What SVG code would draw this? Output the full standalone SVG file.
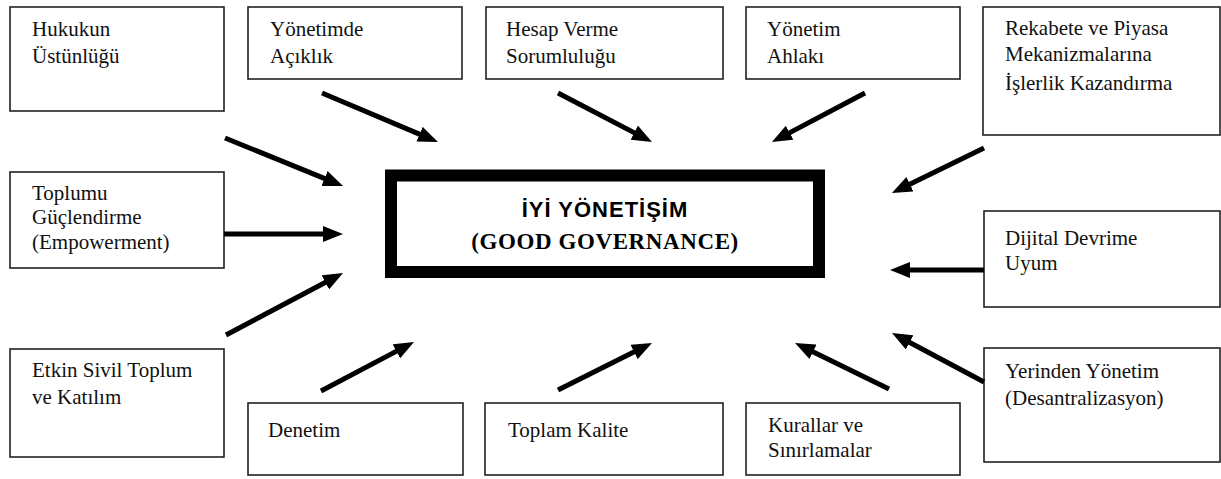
<svg xmlns="http://www.w3.org/2000/svg" width="1221" height="479" viewBox="0 0 1221 479">
<style>
.box{fill:#fff;stroke:#222;stroke-width:1.6}
.t{font-family:"Liberation Serif","Times New Roman",serif;font-size:21px;fill:#111}
.c{stroke:#000;stroke-width:5;fill:none;marker-end:url(#ah)}
.m1{font-family:"Liberation Sans",Arial,sans-serif;font-weight:bold;font-size:22px;letter-spacing:1px;fill:#000}
.m2{font-family:"Liberation Serif","Times New Roman",serif;font-weight:bold;font-size:23px;letter-spacing:0.6px;fill:#000}
</style>
<defs>
<marker id="ah" markerUnits="userSpaceOnUse" markerWidth="20" markerHeight="16" refX="3" refY="8" orient="auto">
<path d="M0,0 L20,8 L0,16 z" fill="#000"/>
</marker>
</defs>
<rect width="1221" height="479" fill="#fff"/>
<g id="center">
<rect x="391" y="175.5" width="428" height="96.5" fill="#fff" stroke="#000" stroke-width="12"/>
<text class="m1" x="605" y="217" text-anchor="middle">İYİ YÖNETİŞİM</text>
<text class="m2" x="605" y="249" text-anchor="middle">(GOOD GOVERNANCE)</text>
</g>
<g id="n1"><rect class="box" x="10" y="7" width="214" height="104"/><text class="t" x="32" y="36">Hukukun</text><text class="t" x="32" y="63">Üstünlüğü</text></g>
<g id="n2"><rect class="box" x="248" y="7" width="214" height="72"/><text class="t" x="270" y="36">Yönetimde</text><text class="t" x="270" y="63">Açıklık</text></g>
<g id="n3"><rect class="box" x="486" y="7" width="237" height="72"/><text class="t" x="506" y="36">Hesap Verme</text><text class="t" x="506" y="63">Sorumluluğu</text></g>
<g id="n4"><rect class="box" x="746" y="7" width="214" height="72"/><text class="t" x="767" y="36">Yönetim</text><text class="t" x="767" y="63">Ahlakı</text></g>
<g id="n5"><rect class="box" x="983" y="7" width="237" height="128"/><text class="t" x="1005" y="35">Rekabete ve Piyasa</text><text class="t" x="1005" y="61">Mekanizmalarına</text><text class="t" x="1005" y="90">İşlerlik Kazandırma</text></g>
<g id="n6"><rect class="box" x="10" y="172" width="214" height="96"/><text class="t" x="32" y="200">Toplumu</text><text class="t" x="32" y="224">Güçlendirme</text><text class="t" x="32" y="249">(Empowerment)</text></g>
<g id="n7"><rect class="box" x="984" y="211" width="236" height="96"/><text class="t" x="1005" y="245">Dijital Devrime</text><text class="t" x="1005" y="270">Uyum</text></g>
<g id="n8"><rect class="box" x="10" y="349" width="214" height="108"/><text class="t" x="32" y="377">Etkin Sivil Toplum</text><text class="t" x="32" y="404">ve Katılım</text></g>
<g id="n9"><rect class="box" x="248" y="403" width="215" height="72"/><text class="t" x="268" y="437">Denetim</text></g>
<g id="n10"><rect class="box" x="485" y="403" width="238" height="72"/><text class="t" x="508" y="437">Toplam Kalite</text></g>
<g id="n11"><rect class="box" x="746" y="403" width="214" height="72"/><text class="t" x="768" y="432">Kurallar ve</text><text class="t" x="768" y="457">Sınırlamalar</text></g>
<g id="n12"><rect class="box" x="984" y="348" width="236" height="114"/><text class="t" x="1005" y="378">Yerinden Yönetim</text><text class="t" x="1005" y="405">(Desantralizasyon)</text></g>
<g id="connectors">
<line class="c" x1="225" y1="138" x2="327.3" y2="179.6"/>
<line class="c" x1="322" y1="93" x2="422.3" y2="135.4"/>
<line class="c" x1="558" y1="93" x2="636.9" y2="134.1"/>
<line class="c" x1="865" y1="93" x2="787" y2="134.1"/>
<line class="c" x1="984" y1="148" x2="907.2" y2="185.5"/>
<line class="c" x1="224" y1="234" x2="326" y2="234"/>
<line class="c" x1="226" y1="335" x2="328" y2="281"/>
<line class="c" x1="321" y1="391" x2="399" y2="349.9"/>
<line class="c" x1="558" y1="390" x2="636.8" y2="350.6"/>
<line class="c" x1="889" y1="389" x2="810.3" y2="350.5"/>
<line class="c" x1="984" y1="270" x2="907" y2="270"/>
<line class="c" x1="984" y1="382" x2="907" y2="341"/>
</g>
</svg>
